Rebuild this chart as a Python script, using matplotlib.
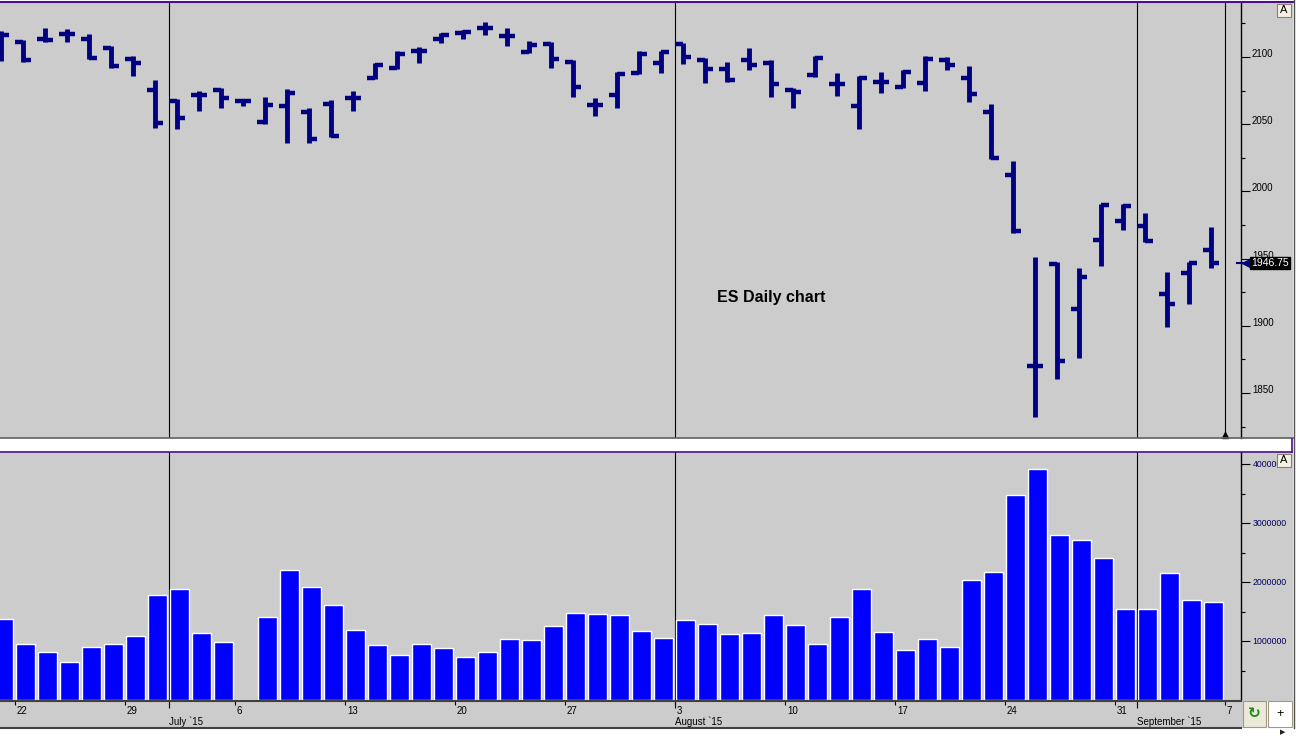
import numpy as np
import matplotlib
matplotlib.use('Agg')
import matplotlib.pyplot as plt
from matplotlib.patches import Rectangle
from matplotlib.lines import Line2D
from matplotlib.transforms import blended_transform_factory as blend

plt.rcParams['font.family'] = ['Liberation Sans', 'DejaVu Sans']

# ---------------- data ----------------
# trading-day slots, 0 = Monday 22 June 2015 (5 slots per week)
bar_pos = np.arange(-1, 55)

opens = [2117.0, 2111.5, 2113.5, 2117.0, 2113.5, 2107.0, 2098.75, 2075.25, 2067.25, 2071.75,
         2075.25, 2067.5, 2051.5, 2063.5, 2059.0, 2065.0, 2069.5, 2084.5, 2092.0, 2104.5,
         2113.5, 2118.0, 2121.5, 2115.5, 2104.0, 2109.75, 2096.5, 2064.5, 2072.0, 2088.25,
         2095.5, 2109.5, 2098.0, 2090.75, 2097.5, 2095.5, 2075.25, 2086.5, 2080.0, 2063.5,
         2081.5, 2077.75, 2081.0, 2097.5, 2084.5, 2059.0, 2012.5, 1870.0, 1946.0, 1912.75,
         1964.0, 1977.75, 1974.25, 1924.0, 1939.25, 1956.25]
highs = [2119.25, 2112.5, 2121.5, 2120.5, 2117.5, 2108.25, 2100.75, 2083.0, 2068.5, 2075.0,
         2076.75, 2068.75, 2070.0, 2076.25, 2061.75, 2068.0, 2075.0, 2095.25, 2104.75, 2107.25,
         2118.0, 2120.0, 2125.75, 2121.5, 2112.0, 2111.0, 2097.75, 2069.75, 2089.0, 2104.5,
         2104.75, 2110.5, 2099.5, 2096.0, 2106.5, 2097.75, 2076.75, 2100.75, 2088.25, 2086.0,
         2089.0, 2090.25, 2100.75, 2099.75, 2093.25, 2064.75, 2022.5, 1951.5, 1947.25, 1943.25,
         1991.0, 1991.0, 1983.75, 1939.75, 1947.75, 1973.25]
lows = [2097.0, 2096.5, 2111.5, 2111.5, 2098.25, 2092.0, 2086.0, 2047.5, 2046.5, 2060.0,
        2062.25, 2063.5, 2050.0, 2035.75, 2036.25, 2040.25, 2060.0, 2083.5, 2091.0, 2095.25,
        2110.5, 2113.25, 2116.5, 2108.5, 2102.75, 2091.5, 2070.0, 2056.25, 2061.75, 2087.5,
        2088.0, 2094.75, 2080.5, 2081.5, 2090.25, 2070.5, 2062.25, 2085.25, 2071.0, 2046.5,
        2073.5, 2076.75, 2075.0, 2090.25, 2066.75, 2024.0, 1968.75, 1832.0, 1860.5, 1876.25,
        1944.75, 1971.25, 1962.0, 1899.25, 1916.25, 1942.75]
closes = [2116.5, 2098.0, 2113.0, 2117.0, 2099.0, 2093.25, 2095.5, 2051.0, 2054.75, 2071.75,
          2069.25, 2067.25, 2064.25, 2073.5, 2039.25, 2041.25, 2069.5, 2094.0, 2102.25, 2104.5,
          2116.5, 2118.75, 2121.5, 2115.5, 2108.75, 2098.5, 2077.75, 2064.5, 2087.5, 2102.25,
          2103.75, 2100.0, 2091.25, 2083.0, 2094.25, 2080.0, 2074.0, 2099.25, 2080.0, 2084.5,
          2081.5, 2088.75, 2098.75, 2094.0, 2072.75, 2025.0, 1970.75, 1870.0, 1873.75, 1936.25,
          1990.0, 1989.0, 1963.25, 1916.5, 1946.5, 1946.75]
volumes = [1370000, 950000, 810000, 640000, 900000, 950000, 1080000, 1780000, 1880000, 1130000,
           980000, 0, 1400000, 2200000, 1910000, 1610000, 1180000, 930000, 760000, 950000,
           880000, 725000, 810000, 1030000, 1010000, 1250000, 1470000, 1455000, 1440000, 1170000,
           1050000, 1350000, 1285000, 1115000, 1130000, 1440000, 1270000, 950000, 1400000, 1880000,
           1150000, 845000, 1030000, 895000, 2030000, 2170000, 3475000, 3920000, 2800000, 2710000,
           2410000, 1540000, 1540000, 2150000, 1690000, 1660000]
last_price = 1946.75

day_tick_slots = [0, 5, 10, 15, 20, 25, 30, 35, 40, 45, 50, 55]
day_tick_labels = ['22', '29', '6', '13', '20', '27', '3', '10', '17', '24', '31', '7']
month_slots = [7, 30, 51]
month_labels = ['July `15', 'August `15', 'September `15']
session_slot = 55

price_ticks = [1850, 1900, 1950, 2000, 2050, 2100]
price_minor = [1825, 1875, 1925, 1975, 2025, 2075, 2125]
vol_ticks = [1000000, 2000000, 3000000, 4000000]
vol_minor = [500000, 1500000, 2500000, 3500000]
chart_title = 'ES Daily chart'

# ---------------- styling ----------------
BG = '#cccccc'
NAVY = '#000080'
BLUE = '#0000ff'
PURPLE = '#4b0f8c'
XL = (-1.045, 55.36)
SHIFT = 0.35   # slot boundary offset from bar centre
MAJ_LEN = 6.5  # points (~9 px)
MIN_LEN = 2.9  # points (~4 px)

W, H = 1296, 736
fig = plt.figure(figsize=(W / 100, H / 100), dpi=100)
fig.patch.set_facecolor('white')


def fx(x):
    return x / W


def fy(y):
    return 1 - y / H


def px_axes(x0, y0, x1, y1):
    return fig.add_axes([fx(x0), fy(y1), (x1 - x0) / W, (y1 - y0) / H])


def frect(x0, y0, x1, y1, **kw):
    r = Rectangle((fx(x0), fy(y1)), (x1 - x0) / W, (y1 - y0) / H,
                  transform=fig.transFigure, **kw)
    fig.add_artist(r)
    return r


def fline(xs, ys, **kw):
    fig.add_artist(Line2D([fx(x) for x in xs], [fy(y) for y in ys],
                          transform=fig.transFigure, **kw))


# panel backgrounds
frect(0, 3, 1293, 438, fc=BG, ec='none', zorder=-5)
frect(0, 452, 1293, 701, fc=BG, ec='none', zorder=-5)
frect(0, 701, 1243, 728, fc=BG, ec='none', zorder=-5)

# ---------------- price panel ----------------
ax_p = px_axes(0, 3, 1241, 438)
ax_p.set_facecolor(BG)
ax_p.set_xlim(*XL)
ax_p.set_ylim(1816.5, 2140.2)
for s in ['left', 'top', 'bottom']:
    ax_p.spines[s].set_visible(False)
ax_p.spines['right'].set_color('black')
ax_p.spines['right'].set_linewidth(1.0)
ax_p.set_xticks([])
ax_p.yaxis.tick_right()
ax_p.set_yticks(price_ticks)
ax_p.set_yticks(price_minor, minor=True)
ax_p.tick_params(axis='y', which='major', length=MAJ_LEN, width=0.8, direction='out',
                 labelright=False, right=True, left=False, colors='black')
ax_p.tick_params(axis='y', which='minor', length=MIN_LEN, width=0.8, direction='out',
                 right=True, left=False, colors='black')
trp = blend(ax_p.transAxes, ax_p.transData)
for v in price_ticks:
    ax_p.text(1 + 11 / 1241, v, str(v), transform=trp, ha='left', va='baseline',
              fontsize=7, color='black', clip_on=False)

for s in month_slots + [session_slot]:
    ax_p.axvline(s - SHIFT, color='black', lw=0.8, zorder=1)
ax_p.plot([session_slot - SHIFT], [1819.0], marker='^', ms=4, color='black',
          clip_on=False, zorder=4)

ax_p.vlines(bar_pos, lows, highs, colors=NAVY, lw=3.5, zorder=3)
ax_p.hlines(opens, bar_pos - 0.36, bar_pos, colors=NAVY, lw=3.2, zorder=3)
ax_p.hlines(closes, bar_pos, bar_pos + 0.38, colors=NAVY, lw=3.2, zorder=3)

ax_p.text(31.55, 1921.4, chart_title, fontsize=11.5, fontweight='bold',
          ha='left', va='center', color='black')

# current-price marker
ax_p.plot([1 - 4 / 1241, 1 + 6 / 1241], [last_price, last_price], transform=trp,
          color=NAVY, lw=1.5, clip_on=False, zorder=5)
ax_p.plot([1 + 5 / 1241], [last_price], transform=trp, marker='<', ms=6,
          color=NAVY, clip_on=False, zorder=5)
ax_p.text(1 + 10 / 1241, last_price, f'{last_price:.2f}', transform=trp,
          color='white', fontsize=7.5, ha='left', va='center', clip_on=False, zorder=6,
          bbox=dict(boxstyle='square,pad=0.12', fc='black', ec='black'))

# ---------------- volume panel ----------------
ax_v = px_axes(0, 452, 1241, 700)
ax_v.set_facecolor(BG)
ax_v.set_xlim(*XL)
ax_v.set_ylim(0, 4.205e6)
for s in ['left', 'top', 'bottom']:
    ax_v.spines[s].set_visible(False)
ax_v.spines['right'].set_color('black')
ax_v.spines['right'].set_linewidth(1.0)
ax_v.set_xticks([])
ax_v.yaxis.tick_right()
ax_v.set_yticks(vol_ticks)
ax_v.set_yticks(vol_minor, minor=True)
ax_v.tick_params(axis='y', which='major', length=MAJ_LEN, width=0.8, direction='out',
                 labelright=False, right=True, left=False, colors='black')
ax_v.tick_params(axis='y', which='minor', length=MIN_LEN, width=0.8, direction='out',
                 right=True, left=False, colors='black')
trv = blend(ax_v.transAxes, ax_v.transData)
for v in vol_ticks:
    ax_v.text(1 + 11.5 / 1241, v, str(v), transform=trv, ha='left', va='center',
              fontsize=6.3, color='#000060', clip_on=False)
for s in month_slots:
    ax_v.axvline(s - SHIFT, color='black', lw=0.8, zorder=1)
ax_v.bar(bar_pos + 0.11, volumes, width=0.9, color=BLUE, edgecolor='white',
         linewidth=1.0, zorder=3)

# ---------------- time axis strip ----------------
ax_x = px_axes(0, 701, 1241, 728)
ax_x.set_facecolor(BG)
ax_x.set_xlim(*XL)
ax_x.set_ylim(1, 0)
ax_x.set_xticks([])
ax_x.set_yticks([])
for s in ['left', 'right']:
    ax_x.spines[s].set_visible(False)
ax_x.spines['top'].set_color('#404040')
ax_x.spines['top'].set_linewidth(1.5)
ax_x.spines['bottom'].set_color('#404040')
ax_x.spines['bottom'].set_linewidth(1.5)
dpos = np.array(day_tick_slots) - SHIFT
mpos = np.array(month_slots) - SHIFT
ax_x.vlines(dpos, 0, 4 / 27, colors='black', lw=0.8)
ax_x.vlines(mpos, 0, 7 / 27, colors='black', lw=0.8)
for p, lab in zip(dpos, day_tick_labels):
    ax_x.text(p + 1.5 / 22, 10.5 / 27, lab, ha='left', va='center', fontsize=7,
              color='black', clip_on=False)
for p, lab in zip(mpos, month_labels):
    ax_x.text(p - 0.5 / 22, 20.5 / 27, lab, ha='left', va='center', fontsize=7,
              color='black', clip_on=False)

# ---------------- frame details ----------------
fline([0, 1293], [2.2, 2.2], color=PURPLE, lw=1.5, zorder=4)
fline([0, 1293], [437.8, 437.8], color='#606060', lw=1.2, zorder=4)
fline([0, 1292], [452.3, 452.3], color=PURPLE, lw=1.2, zorder=4)
fline([1292, 1292], [438.5, 452.3], color=PURPLE, lw=1.2, zorder=4)
fline([1293.5, 1293.5], [0, 728], color='#505050', lw=1.0, zorder=4)

# "A" autoscale boxes
for (y0, y1) in [(3.5, 17), (453.5, 467)]:
    frect(1277, y0, 1291, y1, fc='#f4f0e4', ec='#8c8070', lw=0.8, zorder=5)
    fig.text(fx(1284), fy((y0 + y1) / 2), 'A', fontsize=8, ha='center', va='center',
             color='black', zorder=6)

# bottom-right buttons
frect(1243, 701, 1266, 727, fc='#ece9d8', ec='#a09880', lw=0.8, zorder=5)
fig.text(fx(1254.5), fy(714), '\u21bb', color='#1a8a1a', fontsize=11,
         fontweight='bold', ha='center', va='center', zorder=6)
frect(1268, 701, 1292, 727, fc='white', ec='#a09880', lw=0.8, zorder=5)
fig.text(fx(1280), fy(713.5), '+', fontsize=9, ha='center', va='center', zorder=6)
fig.text(fx(1283), fy(732.5), '\u25b6', fontsize=5, ha='center', va='center',
         color='#202020', zorder=6)

fig.savefig('out.png', dpi=100)
